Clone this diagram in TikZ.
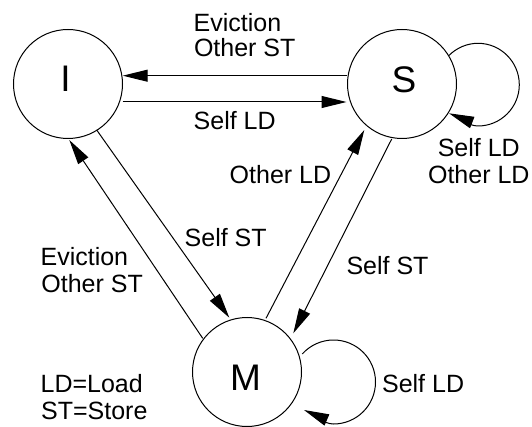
\documentclass[tikz,border=0pt]{standalone}
\usepackage{fontspec}
\setmainfont{Liberation Sans}
\usetikzlibrary{arrows.meta,calc}
\begin{document}
\begin{tikzpicture}[x=1pt,y=-1pt,
  state/.style={draw, circle, minimum size=109pt, inner sep=0pt, line width=1pt},
  statename/.style={anchor=base, inner sep=0pt, font=\fontsize{37}{40}\selectfont},
  lbl/.style={anchor=base west, inner sep=0pt, font=\fontsize{25}{28}\selectfont},
  lblc/.style={lbl, anchor=base},
  edge/.style={line width=1pt, -{Triangle[length=25pt,width=12pt]}},
]
\useasboundingbox (0,0) rectangle (532,427);

% states
\node[state] (I) at (68,84) {};
\node[state] (S) at (402,84) {};
\node[state] (M) at (247,372) {};
\node[statename] (Iname) at (65.5,91.7) {I};
\node[statename] (Sname) at (404,92.7) {S};
\node[statename] (Mname) at (245.5,390) {M};

% transitions between I and S
\draw[edge] ($(S.center)+(-55.3,-8.3)$) -- ($(I.center)+(54.7,-8.3)$);
\draw[edge] ($(I.center)+(54.7,18)$) -- ($(S.center)+(-55.5,18)$);

% transitions between I and M
\draw[edge] ($(I.center)+(28.7,46)$) -- ($(M.center)+(-17.7,-54.3)$);
\draw[edge] ($(M.center)+(-44.3,-33.7)$) -- ($(I.center)+(1.3,56)$);

% transitions between M and S
\draw[edge] ($(M.center)+(19,-53.7)$) -- ($(S.center)+(-37.7,46)$);
\draw[edge] ($(S.center)+(-10.3,55)$) -- ($(M.center)+(46.3,-38.7)$);

% self loop on S
\begin{scope}[shift={(S.center)}]
  \draw[edge] (46.9,-28.5) .. controls (54.7,-36.2) and (65.1,-40.7) .. (76,-40.7)
    .. controls (98.9,-40.7) and (117.3,-21.9) .. (117.3,0.7)
    .. controls (117.3,23.3) and (98.9,42) .. (76,42)
    .. controls (66,42) and (56.3,33) .. (47,29.3);
\end{scope}

% self loop on M
\begin{scope}[shift={(M.center)}]
  \draw[edge] (55.3,-18.1) .. controls (63.3,-26.9) and (74.6,-32) .. (86.5,-32)
    .. controls (109.7,-32) and (128.5,-13.2) .. (128.5,10)
    .. controls (128.5,33.2) and (109.7,52) .. (86.5,52)
    .. controls (76.5,52) and (66.2,42) .. (57,38);
\end{scope}

% transition labels
\node[lbl] (evIS1) at (193.5,32) {Eviction};
\node[lbl] (evIS2) at (193.8,56.5) {Other ST};
\node[lbl] (ldIS) at (193.5,129.5) {Self LD};
\node[lblc] (loopS1) at (478.8,157) {Self LD};
\node[lblc] (loopS2) at (478.8,184) {Other LD};
\node[lbl] (ldMS) at (229.5,184) {Other LD};
\node[lbl] (stIM) at (184.5,247) {Self ST};
\node[lbl] (stSM) at (346.3,275) {Self ST};
\node[lbl] (evMI1) at (40.4,265.5) {Eviction};
\node[lbl] (evMI2) at (41.2,292) {Other ST};
\node[lbl] (loopM) at (381.9,392) {Self LD};

% legend
\node[lbl] (key1) at (40.4,392) {LD=Load};
\node[lbl] (key2) at (40.9,419) {ST=Store};
\end{tikzpicture}
\end{document}
